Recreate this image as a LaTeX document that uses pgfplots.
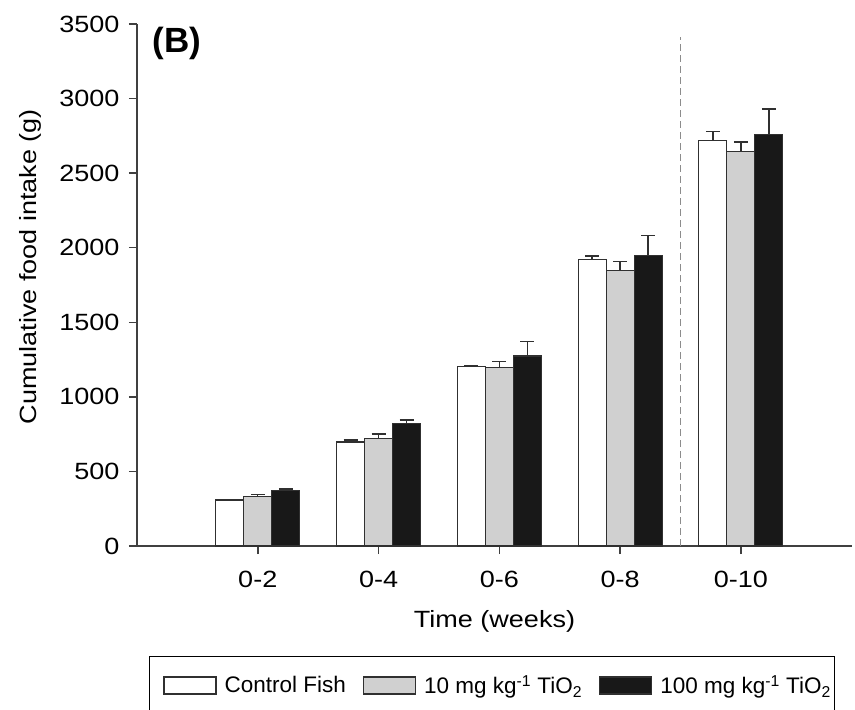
\documentclass[border=0pt]{standalone}
\usepackage{fontspec}
\setmainfont{Liberation Sans}[FakeStretch=1.15]
\newfontfamily\legfont{Liberation Sans}
\newfontfamily\titfont{Liberation Sans}
\usepackage{pgfplots}
\pgfplotsset{compat=1.18}
\definecolor{barline}{HTML}{303030}
\definecolor{axcol}{HTML}{404040}
\definecolor{midgray}{HTML}{D0D0D0}
\definecolor{dark}{HTML}{181818}
\begin{document}
\begin{tikzpicture}
\begin{axis}[
  scale only axis,
  width=715pt, height=522pt,
  xmin=0, xmax=5.92, ymin=0, ymax=3500,
  enlargelimits=false,
  axis x line*=bottom, axis y line*=left,
  axis line style={axcol, line width=1.5pt},
  tick style={axcol, line width=1.5pt},
  tick align=outside, major tick length=8pt,
  xtick={1,2,3,4,5},
  xticklabels={0-2,0-4,0-6,0-8,0-10},
  ytick={0,500,...,3500},
  /pgf/number format/assume math mode=true,
  /pgf/number format/1000 sep={},
  ticklabel style={font=\fontsize{23.5}{26}\selectfont},
  xticklabel style={yshift=-14pt},
  yticklabel style={xshift=-6pt},
  label style={font=\fontsize{23.5}{26}\selectfont},
  xlabel={Time (weeks)},
  ylabel={Cumulative food intake (g)},
  xlabel shift=15pt,
  ylabel shift=11pt,
  ylabel style={at={(ticklabel cs:0.535)}},
  ybar=0pt, bar width=28pt,
  legend columns=3,
  legend style={at={(axis description cs:0,0)}, xshift=12pt, yshift=-110pt, anchor=north west,
    draw=black, line width=1pt, font=\legfont\fontsize{22.5}{24}\selectfont,
    inner xsep=2pt, inner ysep=17pt,
    /tikz/every odd column/.append style={column sep=6pt},
    /tikz/every even column/.append style={column sep=3pt}},
  legend image code/.code={\path (0pt,0pt); \draw[#1, line width=1.2pt] (12pt,-8.5pt) rectangle (64pt,8.5pt);},
  error bars/y dir=plus, error bars/y explicit,
  error bars/error bar style={barline, line width=1.4pt},
  error bars/error mark options={rotate=90, mark size=7pt, barline, line width=1.4pt},
]
\addplot[draw=barline, line width=1.2pt, fill=white] coordinates {
  (1,308) +- (0,3) (2,697) +- (0,14) (3,1205) +- (0,4) (4,1923) +- (0,22) (5,2721) +- (0,60)};
\addplot[draw=barline, line width=1.2pt, fill=midgray] coordinates {
  (1,330) +- (0,14) (2,722) +- (0,29) (3,1198) +- (0,38) (4,1846) +- (0,61) (5,2643) +- (0,65)};
\addplot[draw=barline, line width=1.2pt, fill=dark] coordinates {
  (1,371) +- (0,11) (2,823) +- (0,22) (3,1274) +- (0,96) (4,1947) +- (0,134) (5,2761) +- (0,168)};
\legend{Control Fish, 10 mg kg\textsuperscript{-1} TiO\textsubscript{2}, 100 mg kg\textsuperscript{-1} TiO\textsubscript{2}}
\draw[gray!90, line width=1.5pt, dash pattern=on 7pt off 4pt] (axis cs:4.5,0) -- (axis cs:4.5,3410);
\node[anchor=north west, font=\titfont\bfseries\fontsize{35}{37}\selectfont] at (rel axis cs:0.017,1.0) {(B)};
\end{axis}
\pgfresetboundingbox
\path[use as bounding box] (-137pt,-164pt) rectangle (718pt,546pt);
\end{tikzpicture}
\end{document}
